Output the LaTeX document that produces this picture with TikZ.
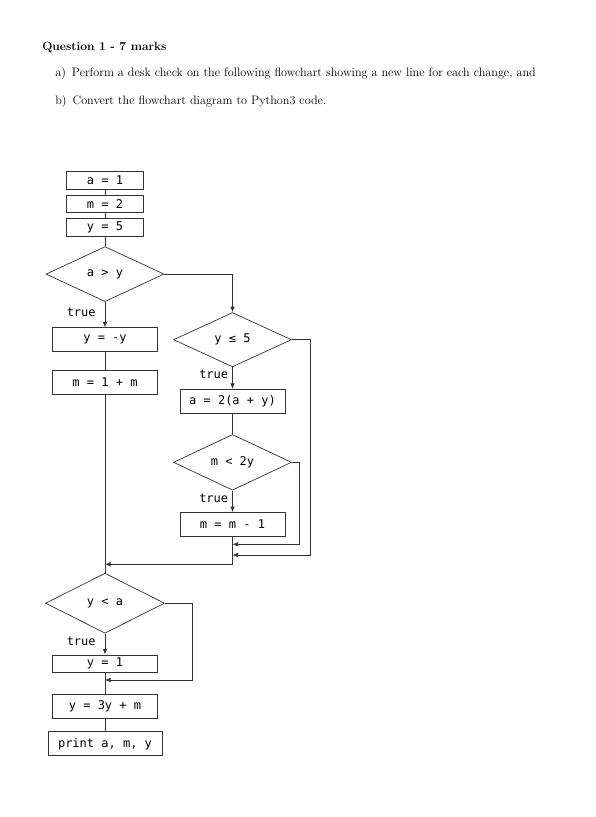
\documentclass[tikz,border=0pt]{standalone}
\usepackage{fontspec}
\setmonofont{DejaVu Sans Mono}
\usetikzlibrary{shapes.geometric,arrows.meta}

\begin{document}
\begin{tikzpicture}[x=1pt,y=-1pt,>={Latex[length=5.5pt,width=4.5pt]},line width=0.7pt,draw=black!80,
                    box/.style={rectangle,draw=black!80,minimum width=105pt,minimum height=24pt,inner sep=2pt,font=\ttfamily\fontsize{12}{14}\selectfont},
                    small box/.style={box,minimum width=77pt,minimum height=17.5pt},
                    cond/.style={diamond,draw=black!80,minimum width=118pt,minimum height=55pt,inner sep=0pt,font=\ttfamily\fontsize{12}{14}\selectfont},
                    lbl/.style={left,inner sep=4pt,font=\ttfamily\fontsize{12}{14}\selectfont}]

                        \useasboundingbox[fill=white] (0,0) rectangle (596,817);

                        % question text
                        \node[anchor=base west,font=\fontsize{12}{14}\selectfont\bfseries,inner sep=0pt] (q) at (42,50){Question 1 - 7 marks};
                        \node[anchor=base west,font=\fontsize{12.2}{14}\selectfont,inner sep=0pt] (qa) at (55,76.7){a)\hspace{6pt}Perform a desk check on the following flowchart showing a new line for each change, and};
                        \node[anchor=base west,font=\fontsize{12.2}{14}\selectfont,inner sep=0pt] (qb) at (55,104){b)\hspace{6pt}Convert the flowchart diagram to Python3 code.};

                        % flowchart
                        \node[small box] (1) at (105,180.5){a = 1};
                        \node[small box] (2) [below of = 1, node distance=23.3pt]{m = 2};
                        \node[small box] (3) [below of = 2, node distance=23.3pt]{y = 5};
                        \node[cond] (4) [below of = 3, node distance=47pt]{a > y};
                        \node[box] (5) [below of = 4, node distance=65.6pt]{y = -y};
                        \node[box] (6) [below of = 5, node distance=42.5pt]{m = 1 + m};
                        \node[cond,minimum height=54.3pt] (7) [right of = 5, node distance=127.5pt]{y ≤ 5};
                        \node[box] (8) [below of = 7, node distance=61.6pt]{a = 2(a + y)};
                        \node[cond,minimum height=55.7pt] (9) [below of = 8, node distance=61pt]{m < 2y};
                        \node[box] (10) [below of = 9, node distance=62.2pt]{m = m - 1};
                        \node[cond,minimum width=119pt,minimum height=60pt] (11) [below of = 6, node distance=221pt]{y < a};
                        \node[box,minimum height=17.7pt] (12) [below of = 11, node distance=60.6pt]{y = 1};
                        \node[box] (13) [below of = 12, node distance=42.4pt]{y = 3y + m};
                        \node[box,minimum width=114pt] (14) [below of = 13, node distance=37.6pt]{print a, m, y};

                        \coordinate (j1) at (105,564.3);
                        \coordinate (j2) at (105,680);
                        \coordinate (r1) at (299.3,544.3);
                        \coordinate (e1) at (232.5,544.3);
                        \coordinate (r2) at (310.7,555);
                        \coordinate (e2) at (232.5,555);
                        \coordinate (r3) at (192.7,680);

                        \draw[-] (1) to (2);
                        \draw[-] (2) to (3);
                        \draw[-] (3) to (4);
                        \draw[->] (4) to node[lbl, pos=0.4, inner sep=9pt]{true} (5);
                        \draw[->] (4.east) -| (7.north);
                        \draw[-] (5) to (6);
                        \draw[-] (6) to (11);
                        \draw[->] (7) to node[lbl, pos=0.35]{true} (8);
                        \draw[-] (8) to (9);
                        \draw[->] (9) to node[lbl, pos=0.35]{true} (10);
                        \draw[->] (9.east) -| (r1) -- (e1);
                        \draw[->] (7.east) -| (r2) -- (e2);
                        \draw[->] (10.south) |- (j1);
                        \draw[->] (11) to node[lbl, pos=0.35, inner sep=9pt]{true} (12);
                        \draw[->] (11.east) -| (r3) -- (j2);
                        \draw[-] (12) to (13);
                        \draw[-] (13) to (14);

                        ;
                    \end{tikzpicture}
\end{document}
